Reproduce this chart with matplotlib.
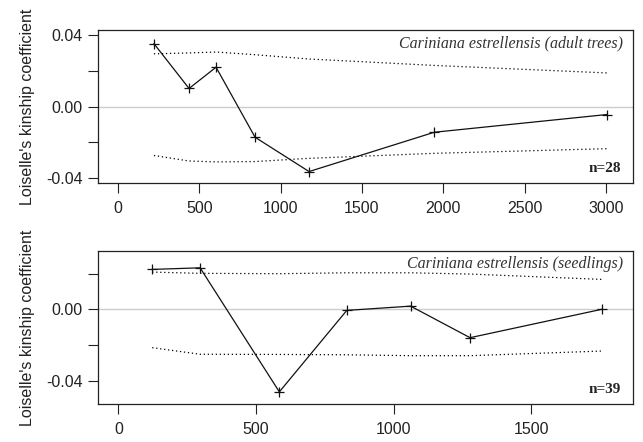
import matplotlib
matplotlib.use("Agg")
import matplotlib.pyplot as plt
from matplotlib.ticker import MultipleLocator, FixedLocator, FuncFormatter

plt.rcParams["font.family"] = ["Liberation Sans", "DejaVu Sans"]

# adult trees
adult_dist = [221, 437, 603, 843, 1175, 1945, 3005]
adult_r = [0.0352, 0.0101, 0.0220, -0.0172, -0.0364, -0.0144, -0.0045]
adult_up = [0.0295, 0.0300, 0.0305, 0.0290, 0.0266, 0.0230, 0.0188]
adult_lo = [-0.0274, -0.0305, -0.0310, -0.0308, -0.0290, -0.0262, -0.0236]

# seedlings
seed_dist = [123, 297, 585, 830, 1062, 1278, 1756]
seed_r = [0.0224, 0.0233, -0.0463, -0.0006, 0.0018, -0.0159, 0.0000]
seed_up = [0.0209, 0.0202, 0.0200, 0.0205, 0.0205, 0.0198, 0.0168]
seed_lo = [-0.0215, -0.0252, -0.0253, -0.0255, -0.0260, -0.0260, -0.0234]

panels = [
    dict(x=adult_dist, y=adult_r, up=adult_up, lo=adult_lo,
         title="Cariniana estrellensis (adult trees)", n="n=28",
         xlim=(-123, 3167), ylim=(-0.0428, 0.0428), xstep=500,
         rect=[0.1524, 0.586, 0.832, 0.346]),
    dict(x=seed_dist, y=seed_r, up=seed_up, lo=seed_lo,
         title="Cariniana estrellensis (seedlings)", n="n=39",
         xlim=(-74, 1870), ylim=(-0.0531, 0.0327), xstep=500,
         rect=[0.1524, 0.086, 0.832, 0.346]),
]

fig = plt.figure(figsize=(6.43, 4.42), dpi=100)
ink = "#222222"

for p in panels:
    ax = fig.add_axes(p["rect"])
    ax.axhline(0, color="#cccccc", lw=1.0, zorder=1)
    ax.plot(p["x"], p["up"], color="black", lw=0.9, ls=(0, (1, 2.2)), zorder=2)
    ax.plot(p["x"], p["lo"], color="black", lw=0.9, ls=(0, (1, 2.2)), zorder=2)
    ax.plot(p["x"], p["y"], color="#111111", lw=0.9, marker="+", ms=7,
            mew=0.9, zorder=3)
    ax.set_xlim(*p["xlim"])
    ax.set_ylim(*p["ylim"])
    ax.xaxis.set_major_locator(MultipleLocator(p["xstep"]))
    ax.yaxis.set_major_locator(FixedLocator([-0.04, -0.02, 0.0, 0.02, 0.04]))
    ax.yaxis.set_major_formatter(FuncFormatter(
        lambda v, pos: "%.2f" % v if abs(round(v / 0.02)) % 2 == 0 else ""))
    ax.tick_params(direction="out", length=7, width=0.8, colors=ink,
                   labelsize=11.5, pad=4)
    ax.tick_params(axis="x", pad=6)
    for s in ax.spines.values():
        s.set_linewidth(0.9)
        s.set_color(ink)
    ax.set_ylabel("Loiselle's kinship coefficient", fontsize=11.5,
                  color=ink)
    ax.yaxis.set_label_coords(-0.117, 0.5)
    ax.text(0.981, 0.915, p["title"], transform=ax.transAxes, ha="right",
            va="center", fontsize=11.5, style="italic",
            family="Liberation Serif", color="#333333")
    ax.text(0.977, 0.095, p["n"], transform=ax.transAxes, ha="right",
            va="center", fontsize=11, weight="bold",
            family="Liberation Serif", color=ink)

fig.savefig("out.png", dpi=100)
